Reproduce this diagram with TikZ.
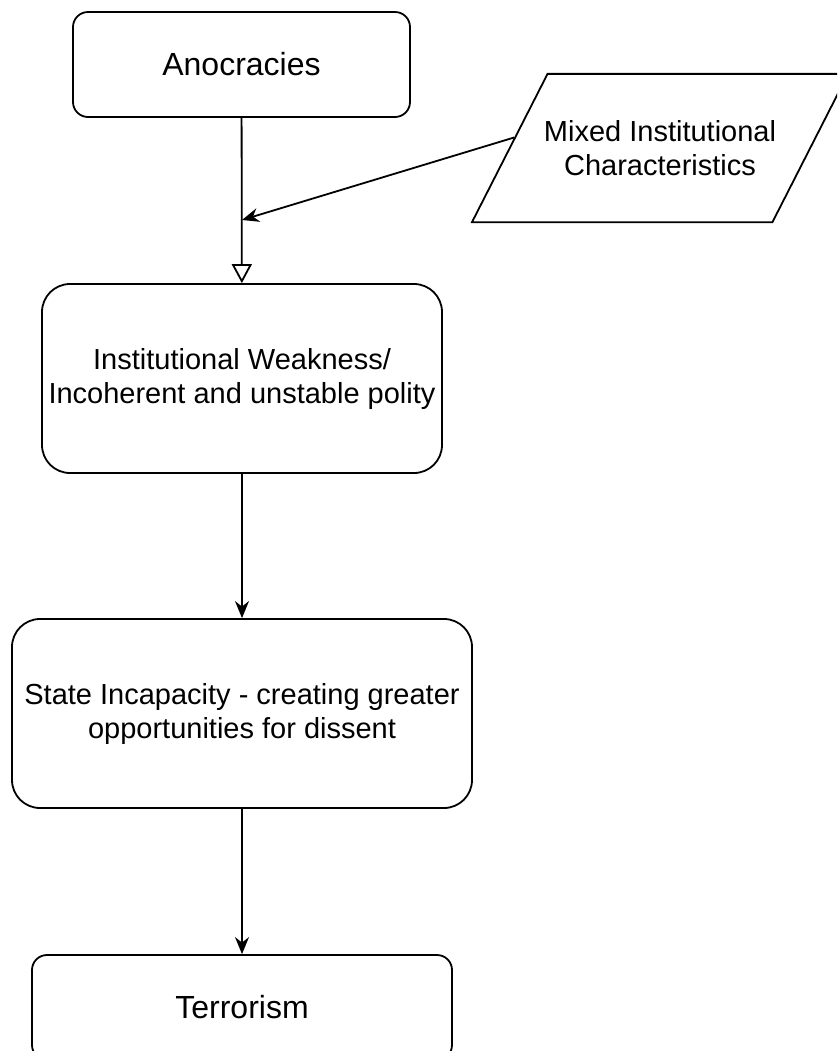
\documentclass[tikz,border=0pt]{standalone}
\usepackage{fontspec}
\setmainfont{Liberation Sans}
\usetikzlibrary{shapes.geometric}
\usetikzlibrary{arrows.meta}
\usetikzlibrary{calc}

\begin{document}
\begin{tikzpicture}[x=0.5pt, y=-0.5pt, line width=0.9pt,
  >={Stealth[length=8.5pt,width=7pt]},
  box/.style={draw, rounded corners=#1, align=center, inner sep=0pt,
    font=\fontsize{14.5}{17}\selectfont},
  box/.default=7.5pt,
  bigtext/.style={font=\fontsize{16}{19}\selectfont},
  lean/.style={draw, trapezium, trapezium left angle=63, trapezium right angle=117,
    trapezium stretches body, align=center, inner xsep=-2pt, inner ysep=23.25pt,
    font=\fontsize{14.5}{17}\selectfont}]

\clip (0,0) rectangle (837,1051);

% the chain of boxes
\node [box, bigtext, minimum width=168.5pt, minimum height=52.5pt](anoc) at (241.5,64.5) {Anocracies};
\node [box=14pt, minimum width=200pt, minimum height=94.5pt](weak) at (242,378.5) {Institutional Weakness/\\Incoherent and unstable polity};
\node [box=14pt, minimum width=230pt, minimum height=94.5pt](state) at (242,713.5) {State Incapacity - creating greater\\opportunities for dissent};
\node [box, bigtext, minimum width=210pt, minimum height=52.5pt](terror) at (242,1007.5) {Terrorism};

% the side input
\node [lean, minimum width=188pt](mixed) at (660,148) {Mixed Institutional\\Characteristics};

\coordinate (join) at (242,220);
\coordinate (mixin) at ($(mixed.top left corner)!0.43!(mixed.bottom left corner)$);

\draw [-{Triangle[open,length=9.5pt,width=10pt]}] (anoc) -- (weak);
\draw [->] (mixin) -- (join);
\draw [->] (weak) -- (state);
\draw [->] (state) -- (terror);

\end{tikzpicture}
\end{document}
